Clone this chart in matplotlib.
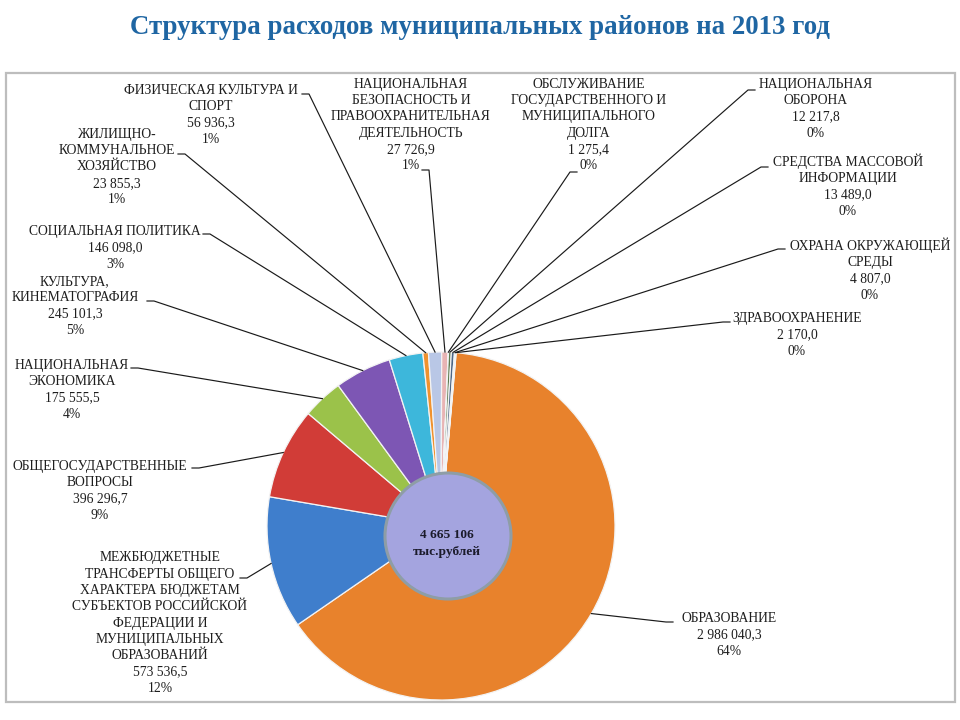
import matplotlib
matplotlib.use("Agg")
import matplotlib.pyplot as plt
import numpy as np
from matplotlib.patches import Circle, Rectangle

# ---------------- data ----------------
categories = [
    "ОБРАЗОВАНИЕ",
    "МЕЖБЮДЖЕТНЫЕ\nТРАНСФЕРТЫ ОБЩЕГО\nХАРАКТЕРА БЮДЖЕТАМ\nСУБЪЕКТОВ РОССИЙСКОЙ\nФЕДЕРАЦИИ И\nМУНИЦИПАЛЬНЫХ\nОБРАЗОВАНИЙ",
    "ОБЩЕГОСУДАРСТВЕННЫЕ\nВОПРОСЫ",
    "НАЦИОНАЛЬНАЯ\nЭКОНОМИКА",
    "КУЛЬТУРА,\nКИНЕМАТОГРАФИЯ",
    "СОЦИАЛЬНАЯ ПОЛИТИКА",
    "ЖИЛИЩНО-\nКОММУНАЛЬНОЕ\nХОЗЯЙСТВО",
    "ФИЗИЧЕСКАЯ КУЛЬТУРА И\nСПОРТ",
    "НАЦИОНАЛЬНАЯ\nБЕЗОПАСНОСТЬ И\nПРАВООХРАНИТЕЛЬНАЯ\nДЕЯТЕЛЬНОСТЬ",
    "ОБСЛУЖИВАНИЕ\nГОСУДАРСТВЕННОГО И\nМУНИЦИПАЛЬНОГО\nДОЛГА",
    "НАЦИОНАЛЬНАЯ\nОБОРОНА",
    "СРЕДСТВА МАССОВОЙ\nИНФОРМАЦИИ",
    "ОХРАНА ОКРУЖАЮЩЕЙ\nСРЕДЫ",
    "ЗДРАВООХРАНЕНИЕ",
]
values = [2986040.3, 573536.5, 396296.7, 175555.5, 245101.3, 146098.0,
          23855.3, 56936.3, 27726.9, 1275.4, 12217.8, 13489.0, 4807.0, 2170.0]
colors = ["#E8822C", "#3F7ECC", "#D13C37", "#9BC24A", "#7D56B4", "#3DB7DB",
          "#F0922E", "#B9C7E6", "#E8B4B4", "#9DB39F", "#5C7A4F", "#4C6685",
          "#6F8F56", "#8A6B9E"]
title = "Структура расходов муниципальных районов на 2013 год"
center_unit = "тыс.рублей"

# ---------------- layout (pixel coordinates, y from top) ----------------
W, H = 960, 720
CX, CY, R = 441, 526, 174
START = 85
LINE_H = 16.3
BASE = 4.5
label_pos = [(729, 634), (160, 622), (100, 490), (72, 389), (75, 305),
             (115, 247), (117, 166), (211, 114), (411, 124), (589, 124),
             (816, 108), (848, 186), (870, 270), (797, 334)]
anchors = [(673, 622), (240, 578), (192, 468), (131, 368), (147, 301),
           (203, 234), (178, 154), (302, 94), (422, 170), (577, 172),
           (755, 90), (768, 167), (785, 249), (730, 322)]

def Y(py):
    return H - py

total = sum(values)
raw = [v / total * 100 for v in values]
pct = [int(np.floor(r)) for r in raw]
left = 100 - sum(pct)
order = sorted(range(len(raw)), key=lambda i: raw[i] - pct[i], reverse=True)
for i in order[:left]:
    pct[i] += 1

def fmt(v):
    return f"{v:,.1f}".replace(",", " ").replace(".", ",")

fig = plt.figure(figsize=(9.6, 7.2), dpi=100)
ax = fig.add_axes([0, 0, 1, 1])

wedges, _ = ax.pie(values, colors=colors, startangle=START, counterclock=False,
                   radius=R, center=(CX, Y(CY)), frame=True,
                   wedgeprops=dict(edgecolor="#f3f3f3", linewidth=0.9))
ax.set_xlim(0, W)
ax.set_ylim(0, H)
ax.set_aspect("equal")
ax.axis("off")

# frame
ax.add_patch(Rectangle((6, Y(702)), 949, 629, fill=False, edgecolor="#BDBDBD", lw=1.6))

# center circle
ax.add_patch(Circle((448, Y(536)), 63, facecolor="#A4A4DF", edgecolor="#8E9DA6", lw=2.2, zorder=5))
center_lines = [f"{total:,.0f}".replace(",", " "), center_unit]
for k, s in enumerate(center_lines):
    ax.text(447, Y(533 + k * 17 + BASE), s, ha="center", va="baseline", fontsize=9.6,
            fontweight="bold", family="Liberation Serif", color="#1b1b2b", zorder=6)

# labels and leader lines
for i, w in enumerate(wedges):
    th = np.deg2rad((w.theta1 + w.theta2) / 2)
    px, py = CX + R * np.cos(th), Y(CY) + R * np.sin(th)
    axp, ayp = anchors[i]
    sx = axp + (7 if px > axp else -7)
    ax.plot([axp, sx, px], [Y(ayp), Y(ayp), py], color="#1a1a1a", lw=0.85, zorder=4)
    lx, ly = label_pos[i]
    lines = categories[i].split("\n") + [fmt(values[i]), f"{pct[i]}%"]
    n = len(lines)
    for k, s in enumerate(lines):
        yy = ly + (k - (n - 1) / 2) * LINE_H + BASE
        ax.text(lx, Y(yy), s, ha="center", va="baseline", fontsize=9.8,
                family="Liberation Serif", color="#1e1e1e")

ax.text(480, Y(28), title, ha="center", va="center", fontsize=19.4,
        fontweight="bold", family="Liberation Serif", color="#1F66A3")

fig.savefig("out.png", dpi=100)
